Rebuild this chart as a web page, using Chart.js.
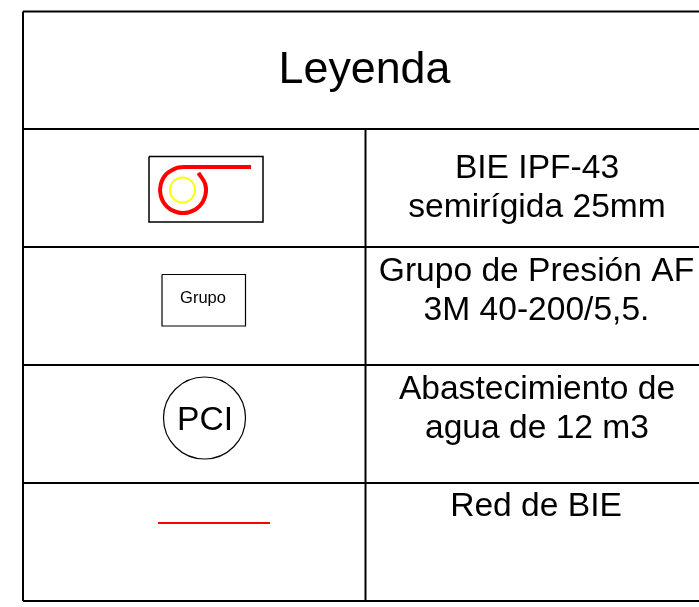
<!DOCTYPE html>
<html>
<head>
<meta charset="utf-8">
<title>Leyenda</title>
<script src="https://cdn.jsdelivr.net/npm/chart.js@4/dist/chart.umd.min.js"></script>
<style>
  html, body { margin: 0; padding: 0; background: #fff; overflow: hidden; }
  canvas { display: block; }
</style>
</head>
<body>
<canvas id="grafico" width="699" height="607"></canvas>
<script>
// Lineas de la tabla
const filasY = [11.5, 129, 247, 365, 483, 601];
const bordeIzqX = 23;
const bordeDerX = 699;
const columnaX = 365.5;

// Simbolo BIE
const cajaBieX = [149, 263, 263, 149, 149];
const cajaBieY = [156.5, 156.5, 222, 222, 156.5];
const espiralX = [198.4, 205.2, 205.2, 199.3, 189, 177, 166.7, 160.8, 160.8, 166.7, 177, 183];
const espiralY = [172.9, 184, 196, 206.3, 212.2, 212.2, 206.3, 196, 184, 173.7, 167.8, 167];
const mangueraX = [183, 251];
const mangueraY = [167, 167];
const circuloBie = [{ x: 182.5, y: 190 }];

// Simbolo grupo
const cajaGrupoX = [162, 245.5, 245.5, 162, 162];
const cajaGrupoY = [274.5, 274.5, 326, 326, 274.5];

// Simbolo PCI
const circuloPci = [{ x: 204.5, y: 418 }];

// Red de BIE
const redX = [158, 270];
const redY = [523, 523];

// Textos
const titulo = { texto: 'Leyenda', x: 364.5, y: 83, tam: 44.8 };
const textos = [
  { texto: 'BIE IPF-43', x: 537, y: 178, tam: 33.6 },
  { texto: 'semirígida 25mm', x: 537, y: 217, tam: 33.6 },
  { texto: 'Grupo de Presión AF', x: 536.5, y: 281, tam: 33.6 },
  { texto: '3M 40-200/5,5.', x: 536.5, y: 320, tam: 33.6 },
  { texto: 'Abastecimiento de', x: 537, y: 399, tam: 33.6 },
  { texto: 'agua de 12 m3', x: 537, y: 438, tam: 33.6 },
  { texto: 'Red de BIE', x: 536, y: 516, tam: 33.6 },
  { texto: 'PCI', x: 205, y: 430, tam: 33.6 },
  { texto: 'Grupo', x: 203, y: 303, tam: 16.5 }
];

function puntos(xs, ys) {
  return xs.map((x, i) => ({ x, y: ys[i] }));
}

function linea(xs, ys, color, grosor, tension) {
  return {
    data: puntos(xs, ys),
    showLine: true,
    borderColor: color,
    borderWidth: grosor,
    pointRadius: 0,
    tension: tension || 0,
    clip: false
  };
}

const datasets = [];

// Tabla
filasY.forEach(y => datasets.push(linea([bordeIzqX, bordeDerX], [y, y], '#000', 2)));
datasets.push(linea([bordeIzqX, bordeIzqX], [filasY[0], filasY[5]], '#000', 2));
datasets.push(linea([columnaX, columnaX], [filasY[1], filasY[5]], '#000', 2));

// Simbolos
datasets.push(linea(cajaBieX, cajaBieY, '#000', 1.5));
datasets.push(linea(espiralX, espiralY, '#ff0000', 4, 0.35));
datasets.push(linea(mangueraX, mangueraY, '#ff0000', 4));
datasets.push({ data: circuloBie, pointRadius: 12.5, pointBorderWidth: 2, pointBorderColor: '#ffff00', pointBackgroundColor: 'transparent', clip: false });
datasets.push(linea(cajaGrupoX, cajaGrupoY, '#000', 1.2));
datasets.push({ data: circuloPci, pointRadius: 41, pointBorderWidth: 1.2, pointBorderColor: '#000', pointBackgroundColor: 'transparent', clip: false });
datasets.push(linea(redX, redY, '#ff0000', 2));

// Plugin para escribir los textos sobre las escalas
const pluginTextos = {
  id: 'textos',
  afterDatasetsDraw(chart) {
    const ctx = chart.ctx;
    const sx = chart.scales.x;
    const sy = chart.scales.y;
    ctx.save();
    ctx.fillStyle = '#000';
    ctx.textAlign = 'center';
    ctx.textBaseline = 'alphabetic';
    [titulo, ...textos].forEach(t => {
      ctx.font = `${t.tam}px "Liberation Sans", Arial, sans-serif`;
      ctx.fillText(t.texto, sx.getPixelForValue(t.x), sy.getPixelForValue(t.y));
    });
    ctx.restore();
  }
};

new Chart(document.getElementById('grafico').getContext('2d'), {
  type: 'scatter',
  data: { datasets },
  plugins: [pluginTextos],
  options: {
    responsive: false,
    animation: false,
    layout: { padding: 0, autoPadding: false },
    plugins: { legend: { display: false }, tooltip: { enabled: false } },
    scales: {
      x: { type: 'linear', min: 0, max: 699, display: false },
      y: { type: 'linear', min: 0, max: 607, reverse: true, display: false }
    }
  }
});
</script>
</body>
</html>
